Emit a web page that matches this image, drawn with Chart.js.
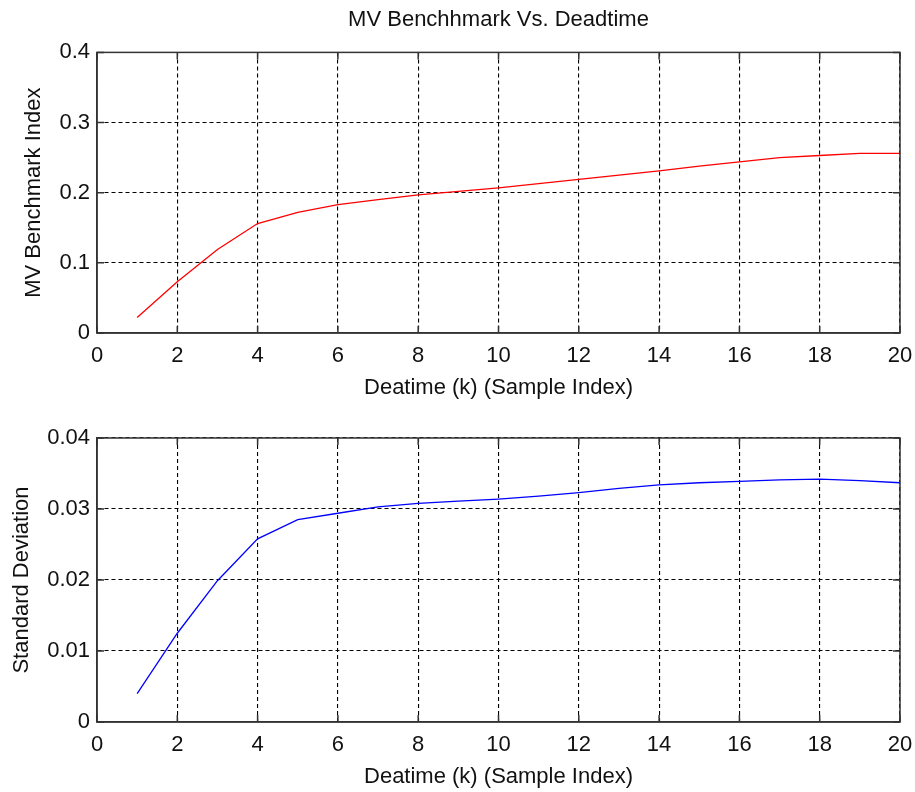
<!DOCTYPE html>
<html>
<head>
<meta charset="utf-8">
<title>MV Benchhmark Vs. Deadtime</title>
<script src="https://cdn.jsdelivr.net/npm/chart.js@4.4.1/dist/chart.umd.min.js"></script>
<style>
  html, body { margin: 0; padding: 0; background: #fff; }
  #wrap { position: relative; width: 915px; height: 792px; }
  #wrap canvas { position: absolute; left: 0; top: 0; }
</style>
</head>
<body>
<div id="wrap">
  <canvas id="benchChart" width="915" height="792"></canvas>
  <canvas id="stdChart" width="915" height="792"></canvas>
</div>
<script>
// Deadtime k (sample index)
const deadtime = [1, 2, 3, 4, 5, 6, 7, 8, 9, 10, 11, 12, 13, 14, 15, 16, 17, 18, 19, 20];

// MV benchmark index for each deadtime
const mvIndex = [0.022, 0.073, 0.119, 0.156, 0.172, 0.183, 0.190, 0.197, 0.202, 0.207,
                 0.213, 0.219, 0.225, 0.231, 0.238, 0.244, 0.250, 0.253, 0.256, 0.256];

// Standard deviation of the index for each deadtime
const stdDev = [0.0040, 0.0125, 0.0199, 0.0258, 0.0285, 0.0294, 0.0303, 0.0308, 0.0311, 0.0314,
                0.0318, 0.0323, 0.0329, 0.0334, 0.0337, 0.0339, 0.0341, 0.0342, 0.0340, 0.0337];

// Axis ticks
const xTicks = [0, 2, 4, 6, 8, 10, 12, 14, 16, 18, 20];
const yTicksIndex = [0, 0.1, 0.2, 0.3, 0.4];
const yTicksStd = [0, 0.01, 0.02, 0.03, 0.04];

const FONT = { family: '"Liberation Sans", Arial, Helvetica, sans-serif', size: 22, lineHeight: 1.2, weight: 'normal' };
const INK = '#111';

// Solid frame around the plot area plus short inward tick marks (MATLAB-style axes)
const framePlugin = {
  id: 'frame',
  afterDatasetsDraw(chart) {
    const { ctx, chartArea: a, scales } = chart;
    ctx.save();
    ctx.strokeStyle = '#333';
    ctx.lineWidth = 1.5;
    ctx.setLineDash([]);
    ctx.strokeRect(a.left, a.top, a.right - a.left, a.bottom - a.top);
    const len = 7;
    ctx.beginPath();
    scales.x.ticks.forEach(t => {
      const px = scales.x.getPixelForValue(t.value);
      ctx.moveTo(px, a.bottom); ctx.lineTo(px, a.bottom - len);
      ctx.moveTo(px, a.top); ctx.lineTo(px, a.top + len);
    });
    scales.y.ticks.forEach(t => {
      const py = scales.y.getPixelForValue(t.value);
      ctx.moveTo(a.left, py); ctx.lineTo(a.left + len, py);
      ctx.moveTo(a.right, py); ctx.lineTo(a.right - len, py);
    });
    ctx.stroke();
    ctx.restore();
  }
};

function makeChart(id, values, color, yTicks, yTitle, yTitlePad, title, padding) {
  const points = deadtime.map((k, i) => ({ x: k, y: values[i] }));
  return new Chart(document.getElementById(id), {
    type: 'line',
    data: {
      datasets: [{
        data: points,
        borderColor: color,
        borderWidth: 1.3,
        pointRadius: 0,
        tension: 0,
        fill: false
      }]
    },
    options: {
      responsive: false,
      animation: false,
      layout: { padding: padding },
      plugins: {
        legend: { display: false },
        tooltip: { enabled: false },
        title: {
          display: !!title,
          text: title,
          fullSize: false,
          color: INK,
          font: FONT,
          padding: { top: 7, bottom: 19 }
        }
      },
      scales: {
        x: {
          type: 'linear',
          min: 0, max: 20,
          afterBuildTicks: s => { s.ticks = xTicks.map(v => ({ value: v })); },
          afterFit: s => { s.height = 70; s.paddingLeft = 0; s.paddingRight = 0; },
          ticks: { color: INK, font: FONT, padding: 10, maxRotation: 0, callback: v => String(v) },
          grid: { color: '#000', lineWidth: 1.1, drawTicks: false },
          border: { color: '#333', width: 1.5, dash: [4, 3] },
          title: { display: true, text: 'Deatime (k) (Sample Index)', color: INK, font: FONT, padding: { top: 0, bottom: 2 } }
        },
        y: {
          type: 'linear',
          min: yTicks[0], max: yTicks[yTicks.length - 1],
          afterBuildTicks: s => { s.ticks = yTicks.map(v => ({ value: v })); },
          afterFit: s => { s.width = 97; s.paddingTop = 0; s.paddingBottom = 0; },
          ticks: { color: INK, font: FONT, padding: 7, callback: v => String(v) },
          grid: { color: '#000', lineWidth: 1.1, drawTicks: false },
          border: { color: '#333', width: 1.5, dash: [4, 3] },
          title: { display: true, text: yTitle, color: INK, font: FONT, padding: { top: yTitlePad, bottom: 0 } }
        }
      }
    },
    plugins: [framePlugin]
  });
}

makeChart('benchChart', mvIndex, '#ff0000', yTicksIndex, 'MV Benchmark Index', 21,
  'MV Benchhmark Vs. Deadtime', { left: 0, right: 15, top: 0, bottom: 389 });

makeChart('stdChart', stdDev, '#0000ff', yTicksStd, 'Standard Deviation', 9,
  '', { left: 0, right: 15, top: 438, bottom: 0 });
</script>
</body>
</html>
